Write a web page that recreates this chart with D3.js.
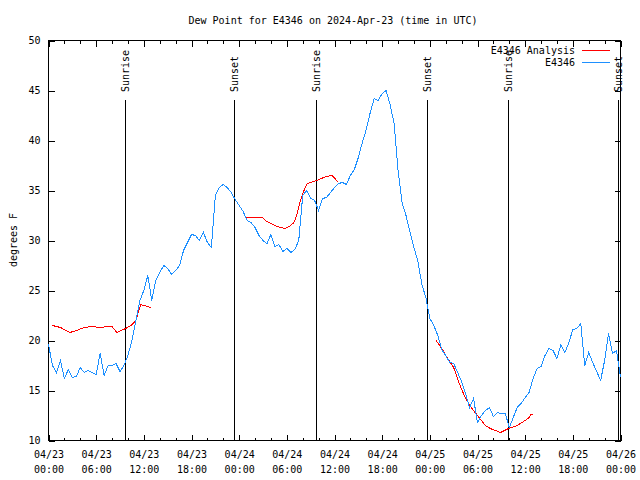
<!DOCTYPE html>
<html><head><meta charset="utf-8">
<script src="https://cdn.jsdelivr.net/npm/d3@7"></script>
<style>
body{margin:0;background:#fff}
text{font-family:"DejaVu Sans Mono","Liberation Mono",monospace;font-size:10px;fill:#000}
path,line,rect{shape-rendering:crispEdges}
</style>
</head><body>
<svg id="c" width="640" height="480"></svg>
<script>
const title = "Dew Point for E4346 on 2024-Apr-23 (time in UTC)";
const yLabel = "degrees F";
const seriesNames = ["E4346 Analysis", "E4346"];
const seriesColors = ["#ff0000", "#1e90ff"];

// observations every half hour from 04/23 00:00 UTC
const obsStepHours = 0.5;
const obsValues = [
  19.6, 17.5, 16.8, 18.0, 16.2, 17.1, 16.3, 16.4, 17.3, 16.8, 17.0, 16.8, 16.6, 18.7, 16.5, 17.5,
  17.5, 17.7, 16.9, 17.5, 18.5, 20.0, 22.0, 24.0, 25.0, 26.5, 24.0, 26.0, 26.8, 27.5, 27.2, 26.6,
  27.0, 27.5, 29.0, 29.8, 30.6, 30.5, 30.0, 30.8, 29.8, 29.3, 34.5, 35.3, 35.6, 35.3, 34.8, 34.1,
  33.5, 32.9, 32.0, 31.8, 31.3, 30.5, 30.0, 29.7, 30.6, 29.4, 29.6, 28.9, 29.2, 28.8, 29.1, 30.0,
  34.5, 35.0, 34.2, 34.0, 33.0, 34.2, 34.3, 34.8, 35.3, 35.7, 35.8, 35.6, 36.5, 37.1, 38.3, 39.8,
  41.1, 42.8, 44.2, 44.0, 44.7, 45.0, 43.6, 41.7, 37.0, 33.8, 32.5, 30.9, 29.3, 27.9, 25.6, 24.3,
  22.2, 21.5, 20.5, 19.1, 18.5, 17.8, 17.7, 16.8, 15.9, 14.7, 13.3, 14.2, 11.8, 12.5, 13.0, 13.3,
  12.4, 12.8, 12.7, 12.7, 11.3, 12.3, 13.3, 13.7, 14.3, 14.8, 16.2, 17.2, 17.4, 18.5, 19.2, 19.0,
  18.2, 19.6, 18.8, 19.8, 21.1, 21.2, 21.7, 17.5, 18.8, 17.8, 16.9, 16.0, 18.0, 20.7, 18.7, 19.0,
  16.3
];

// analysis (hours since 04/23 00:00 UTC); null marks a gap
const analysisHours = [
  0.5, 1.5, 2.7, 3.5, 4.5, 5.5, 6.5, 7.5, 8.0, 8.6, 9.7, 10.4, 11.0, 11.6, 12.9, 13.0,
  24.7, 26.9, 27.3, 28.0, 28.8, 29.8, 30.3, 30.9, 31.3, 31.7, 32.3, 32.6, 33.8, 34.9, 35.7, 36.5, 36.6,
  48.8, 49.5, 50.4, 51.0, 51.7, 52.5, 53.3, 54.2, 55.0, 55.6, 56.9, 57.9, 59.0, 60.0, 60.5, 60.7, 61.0
];
const analysisValues = [
  21.5, 21.3, 20.8, 21.0, 21.3, 21.4, 21.3, 21.4, 21.4, 20.8, 21.2, 21.5, 22.0, 23.6, 23.3, null,
  32.3, 32.3, 32.0, 31.7, 31.4, 31.2, 31.4, 31.8, 32.7, 34.0, 35.3, 35.7, 36.0, 36.4, 36.5, 35.8, null,
  20.0, 19.2, 18.0, 17.3, 15.7, 14.2, 13.2, 12.3, 11.5, 11.2, 10.8, 11.2, 11.5, 12.0, 12.3, 12.6, 12.6
];

const sunLabels = ["Sunrise", "Sunset", "Sunrise", "Sunset", "Sunrise", "Sunset"];
const sunHours = [9.7, 23.45, 33.7, 47.65, 57.95, 71.75];

const xTickHours = [0, 6, 12, 18, 24, 30, 36, 42, 48, 54, 60, 66, 72];
const xTickDates = ["04/23","04/23","04/23","04/23","04/24","04/24","04/24","04/24","04/25","04/25","04/25","04/25","04/26"];
const xTickTimes = ["00:00","06:00","12:00","18:00","00:00","06:00","12:00","18:00","00:00","06:00","12:00","18:00","00:00"];
const xMinorHours = [2, 4, 8, 10, 14, 16, 20, 22, 26, 28, 32, 34, 38, 40, 44, 46, 50, 52, 56, 58, 62, 64, 68, 70];
const yTicks = [10, 15, 20, 25, 30, 35, 40, 45, 50];

const L = 48, R = 620, T = 40, B = 440;
const svg = d3.select("#c");
const g = svg.append("g").attr("transform", "translate(0.5,0.5)");

const x = d3.scaleLinear().domain([0, 72]).range([L, R]);
const y = d3.scaleLinear().domain([10, 50]).range([B, T]);

// title
svg.append("text").attr("x", 333).attr("y", 23.5).attr("text-anchor", "middle").text(title);
// y label
svg.append("text").attr("transform", "translate(13.5,240) rotate(-90)")
  .attr("text-anchor", "middle").attr("dominant-baseline", "central").text(yLabel);

// axes
const bottom = g.append("g").attr("transform", `translate(0,${B})`)
  .call(d3.axisBottom(x).tickValues(xTickHours).tickSize(-6).tickSizeOuter(0).tickFormat(() => ""));
bottom.selectAll(".tick text").each(function(d, i) {
  const t = d3.select(this).attr("y", 0).attr("dy", null);
  t.append("tspan").attr("x", 0).attr("y", 17.5).text(xTickDates[i]);
  t.append("tspan").attr("x", 0).attr("y", 32).text(xTickTimes[i]);
});
g.append("g").attr("transform", `translate(0,${B})`)
  .call(d3.axisBottom(x).tickValues(xMinorHours).tickSize(-3).tickSizeOuter(0).tickFormat(() => ""));
g.append("g").attr("transform", `translate(0,${T})`)
  .call(d3.axisTop(x).tickValues(xTickHours).tickSize(-6).tickSizeOuter(0).tickFormat(() => ""));
g.append("g").attr("transform", `translate(0,${T})`)
  .call(d3.axisTop(x).tickValues(xMinorHours).tickSize(-3).tickSizeOuter(0).tickFormat(() => ""));
g.append("g").attr("transform", `translate(${L},0)`)
  .call(d3.axisLeft(y).tickValues(yTicks).tickSize(-6).tickSizeOuter(0).tickPadding(8).tickFormat(d3.format("d")));
g.append("g").attr("transform", `translate(${R},0)`)
  .call(d3.axisRight(y).tickValues(yTicks).tickSize(-6).tickSizeOuter(0).tickFormat(() => ""));
g.selectAll(".domain").remove();
g.selectAll(".tick line").attr("stroke", "#000");
g.selectAll(".tick text").attr("font-family", null).attr("font-size", null);

// sunrise / sunset lines
sunHours.forEach((h, i) => {
  const xp = Math.round(x(h));
  g.append("line").attr("x1", xp).attr("x2", xp).attr("y1", 99).attr("y2", B)
    .attr("stroke", "#000").attr("stroke-width", 1);
  svg.append("text").attr("transform", `translate(${xp + 0.5},92) rotate(-90)`)
    .attr("dominant-baseline", "central").text(sunLabels[i]);
});

// frame
g.append("rect").attr("x", L).attr("y", T).attr("width", R - L).attr("height", B - T)
  .attr("fill", "none").attr("stroke", "#000");

// data
const obs = obsValues.map((v, i) => ({ t: i * obsStepHours, v }));
const ana = analysisHours.map((t, i) => ({ t, v: analysisValues[i] }));
const line = d3.line().defined(d => d.v != null).x(d => x(d.t)).y(d => y(d.v));

g.append("path").datum(ana).attr("d", line).attr("fill", "none")
  .attr("stroke", seriesColors[0]).attr("stroke-width", 1);
g.append("path").datum(obs).attr("d", line).attr("fill", "none")
  .attr("stroke", seriesColors[1]).attr("stroke-width", 1);

// legend
const legY = [50, 62];
seriesNames.forEach((n, i) => {
  svg.append("text").attr("x", 575).attr("y", legY[i]).attr("text-anchor", "end")
    .attr("dominant-baseline", "central").text(n);
  g.append("line").attr("x1", 581).attr("x2", 609).attr("y1", legY[i]).attr("y2", legY[i])
    .attr("stroke", seriesColors[i]);
});
</script>
</body></html>
